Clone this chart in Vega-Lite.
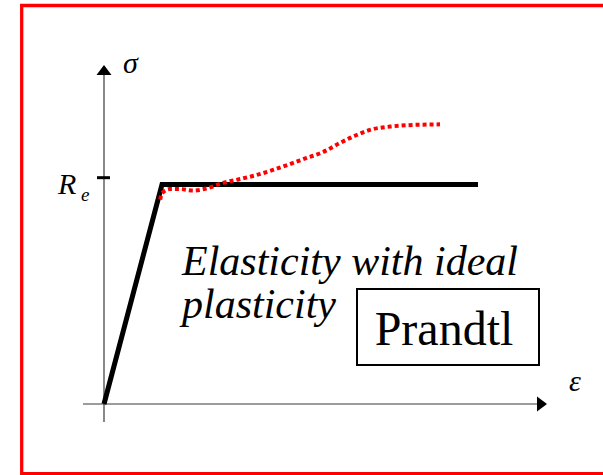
{
  "$schema": "https://vega.github.io/schema/vega-lite/v6.json",
  "width": 603,
  "height": 475,
  "padding": 0,
  "autosize": {"type": "fit", "contains": "padding"},
  "background": "white",
  "config": {"view": {"stroke": null}},
  "datasets": {
    "frame": [{"x": -1.419, "x2": 9.5, "y": 1.7555, "y2": -0.307}],
    "box": [{"x": 4.362, "x2": 7.5, "y": 0.5066, "y2": 0.1718}],
    "axes": [
      {"name": "sigma axis", "x": 0, "x2": 0, "y": -0.0793, "y2": 1.47},
      {"name": "epsilon axis", "x": -0.362, "x2": 7.55, "y": 0, "y2": 0}
    ],
    "tick": [{"x": -0.121, "x2": 0.103, "y": 0.997, "y2": 0.997}],
    "arrowUp": [{"x": 0, "y": 1.471}],
    "arrowRight": [{"x": 7.552, "y": 0}],
    "prandtlModel": [
      {"strain": 0, "stress": 0},
      {"strain": 1.0, "stress": 0.967},
      {"strain": 6.448, "stress": 0.967}
    ],
    "realCurve": [
      {"strain": 0.97, "stress": 0.9},
      {"strain": 0.995, "stress": 0.928},
      {"strain": 1.138, "stress": 0.947},
      {"strain": 1.31, "stress": 0.947},
      {"strain": 1.534, "stress": 0.94},
      {"strain": 1.771, "stress": 0.95},
      {"strain": 2.052, "stress": 0.974},
      {"strain": 2.345, "stress": 0.991},
      {"strain": 2.633, "stress": 1.009},
      {"strain": 2.914, "stress": 1.031},
      {"strain": 3.207, "stress": 1.057},
      {"strain": 3.495, "stress": 1.084},
      {"strain": 3.776, "stress": 1.11},
      {"strain": 4.069, "stress": 1.15},
      {"strain": 4.357, "stress": 1.185},
      {"strain": 4.638, "stress": 1.211},
      {"strain": 4.931, "stress": 1.222},
      {"strain": 5.219, "stress": 1.228},
      {"strain": 5.793, "stress": 1.232}
    ],
    "symbols": [
      {"x": 0.328, "y": 1.458, "label": "σ"},
      {"x": 8.017, "y": 0.057, "label": "ε"},
      {"x": -0.793, "y": 0.925, "label": "R"}
    ],
    "subscript": [{"x": -0.397, "y": 0.894, "label": "e"}],
    "caption": [
      {"x": 1.345, "y": 0.568, "label": "Elasticity with ideal"},
      {"x": 1.345, "y": 0.379, "label": "plasticity"}
    ],
    "name": [{"x": 5.862, "y": 0.26, "label": "Prandtl"}]
  },
  "layer": [
    {
      "data": {"name": "frame"},
      "mark": {"type": "rect", "fill": null, "stroke": "#ff0000", "strokeWidth": 3.3, "clip": true},
      "encoding": {
        "x": {"field": "x", "type": "quantitative", "scale": {"domain": [-1.7931, 8.6034], "nice": false, "zero": false}, "axis": null},
        "x2": {"field": "x2"},
        "y": {"field": "y", "type": "quantitative", "scale": {"domain": [-0.31278, 1.77974], "nice": false, "zero": false}, "axis": null},
        "y2": {"field": "y2"}
      }
    },
    {
      "data": {"name": "box"},
      "mark": {"type": "rect", "fill": null, "stroke": "black", "strokeWidth": 2},
      "encoding": {
        "x": {"field": "x", "type": "quantitative"},
        "x2": {"field": "x2"},
        "y": {"field": "y", "type": "quantitative"},
        "y2": {"field": "y2"}
      }
    },
    {
      "data": {"name": "axes"},
      "mark": {"type": "rule", "color": "#3a3a3a", "strokeWidth": 1.2},
      "encoding": {
        "x": {"field": "x", "type": "quantitative"},
        "x2": {"field": "x2"},
        "y": {"field": "y", "type": "quantitative"},
        "y2": {"field": "y2"}
      }
    },
    {
      "data": {"name": "tick"},
      "mark": {"type": "rule", "color": "black", "strokeWidth": 3},
      "encoding": {
        "x": {"field": "x", "type": "quantitative"},
        "x2": {"field": "x2"},
        "y": {"field": "y", "type": "quantitative"},
        "y2": {"field": "y2"}
      }
    },
    {
      "data": {"name": "arrowUp"},
      "mark": {"type": "point", "shape": "M0,-0.667L1,0.667L-1,0.667Z", "size": 225, "filled": true, "color": "black", "opacity": 1},
      "encoding": {
        "x": {"field": "x", "type": "quantitative"},
        "y": {"field": "y", "type": "quantitative"}
      }
    },
    {
      "data": {"name": "arrowRight"},
      "mark": {"type": "point", "shape": "M0.667,0L-0.667,1L-0.667,-1Z", "size": 225, "filled": true, "color": "black", "opacity": 1},
      "encoding": {
        "x": {"field": "x", "type": "quantitative"},
        "y": {"field": "y", "type": "quantitative"}
      }
    },
    {
      "data": {"name": "prandtlModel"},
      "mark": {"type": "line", "color": "black", "strokeWidth": 5, "strokeCap": "butt", "strokeJoin": "miter"},
      "encoding": {
        "x": {"field": "strain", "type": "quantitative"},
        "y": {"field": "stress", "type": "quantitative"}
      }
    },
    {
      "data": {"name": "realCurve"},
      "mark": {"type": "line", "color": "#ff0000", "strokeWidth": 4, "strokeDash": [4, 3], "strokeCap": "butt", "interpolate": "monotone"},
      "encoding": {
        "x": {"field": "strain", "type": "quantitative"},
        "y": {"field": "stress", "type": "quantitative"}
      }
    },
    {
      "data": {"name": "symbols"},
      "mark": {"type": "text", "font": "Liberation Serif, Times New Roman, DejaVu Serif, serif", "fontStyle": "italic", "fontSize": 30, "align": "left", "baseline": "alphabetic", "color": "black"},
      "encoding": {
        "x": {"field": "x", "type": "quantitative"},
        "y": {"field": "y", "type": "quantitative"},
        "text": {"field": "label"}
      }
    },
    {
      "data": {"name": "subscript"},
      "mark": {"type": "text", "font": "Liberation Serif, Times New Roman, DejaVu Serif, serif", "fontStyle": "italic", "fontSize": 19, "align": "left", "baseline": "alphabetic", "color": "black"},
      "encoding": {
        "x": {"field": "x", "type": "quantitative"},
        "y": {"field": "y", "type": "quantitative"},
        "text": {"field": "label"}
      }
    },
    {
      "data": {"name": "caption"},
      "mark": {"type": "text", "font": "Liberation Serif, Times New Roman, DejaVu Serif, serif", "fontStyle": "italic", "fontSize": 42, "align": "left", "baseline": "alphabetic", "color": "black"},
      "encoding": {
        "x": {"field": "x", "type": "quantitative"},
        "y": {"field": "y", "type": "quantitative"},
        "text": {"field": "label"}
      }
    },
    {
      "data": {"name": "name"},
      "mark": {"type": "text", "font": "Liberation Serif, Times New Roman, DejaVu Serif, serif", "fontSize": 48, "align": "center", "baseline": "alphabetic", "color": "black"},
      "encoding": {
        "x": {"field": "x", "type": "quantitative"},
        "y": {"field": "y", "type": "quantitative"},
        "text": {"field": "label"}
      }
    }
  ]
}
